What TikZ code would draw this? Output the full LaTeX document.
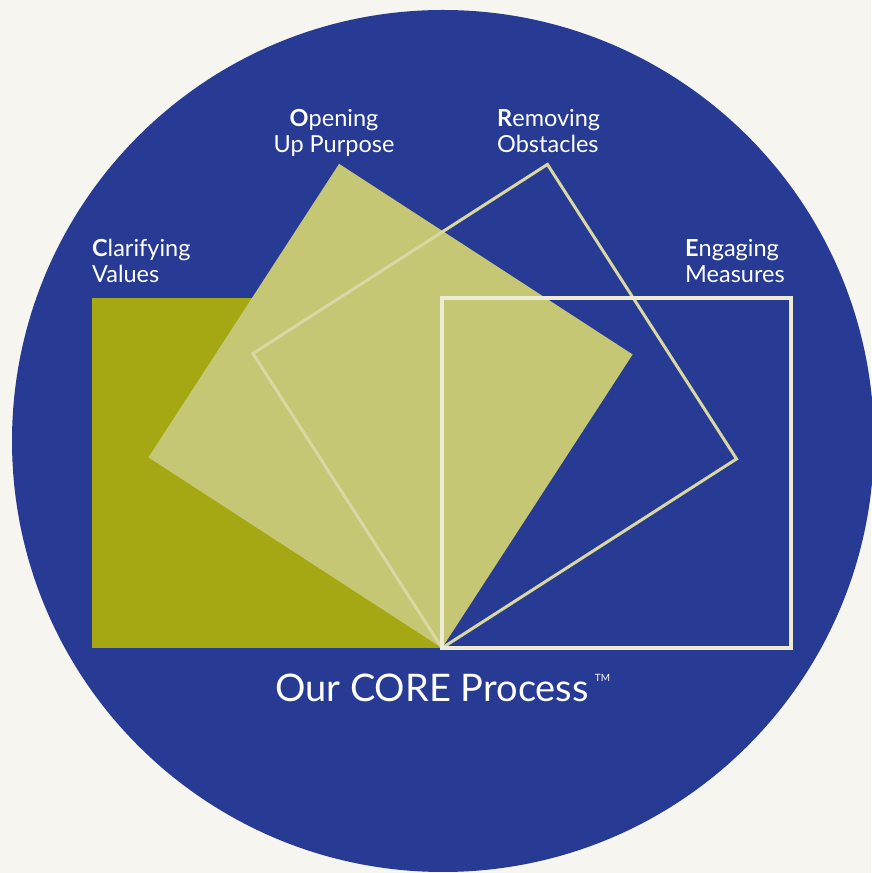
\documentclass[tikz,border=0pt]{standalone}
\usepackage{fontspec}
\setmainfont{Lato}

\definecolor{paper}{HTML}{F6F5F0}
\definecolor{coreblue}{HTML}{273A94}
\definecolor{clarifyolive}{HTML}{A5A812}
\definecolor{openolive}{HTML}{C6C774}
\definecolor{removeline}{HTML}{DAD8A2}
\definecolor{engageline}{HTML}{EDEBD3}

\tikzset{
    steplabel/.style={text=white, inner sep=0pt, font=\fontsize{23.5}{26.5}\selectfont},
}

\begin{document}
\begin{tikzpicture}[x=1pt, y=1pt]
            \useasboundingbox (0,0) rectangle (871,873);
            \fill[paper] (0,0) rectangle (871,873);
            \fill[coreblue] (443,432) circle[radius=431];
            % the four squares share one corner
            \coordinate (corner) at (442,225);
            \fill[clarifyolive] (corner) rectangle ++(-350,350);
            \fill[openolive] (corner) -- ++(147:350) -- ++(57:350) -- ++(-33:350) -- cycle;
            \draw[removeline, line width=3pt, line join=miter] (corner) -- ++(122.7:350) -- ++(32.7:350) -- ++(-57.3:350) -- cycle;
            \draw[engageline, line width=3.5pt] (corner) rectangle ++(349,350);
            % step names (base is the second line)
            \node[steplabel, align=left, anchor=base west] (clarifying) at (92,590) {\textbf{C}larifying\\Values};
            \node[steplabel, align=center, anchor=base] (opening) at (334,720) {\textbf{O}pening\\Up Purpose};
            \node[steplabel, align=left, anchor=base west] (removing) at (497,720) {\textbf{R}emoving\\Obstacles};
            \node[steplabel, align=left, anchor=base west] (engaging) at (685,590) {\textbf{E}ngaging\\Measures};
            \node[text=white, inner sep=0pt, anchor=base west, font=\fontsize{38}{42}\selectfont] (title) at (275,171)
                {Our CORE Process\,{\fontsize{10}{10}\selectfont\raisebox{20pt}{TM}}};
        \end{tikzpicture}
\end{document}
